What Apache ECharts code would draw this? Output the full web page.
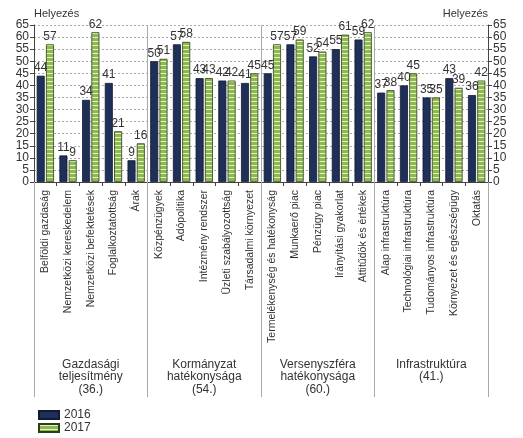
<!DOCTYPE html>
<html><head><meta charset="utf-8">
<script src="https://cdn.jsdelivr.net/npm/echarts@6/dist/echarts.min.js"></script>
<style>html,body{margin:0;padding:0;background:#fff}#c{width:523px;height:438px}</style>
</head><body><div id="c"></div>
<script>
const categories = ["Belföldi gazdaság","Nemzetközi kereskedelem","Nemzetközi befektetések","Foglalkoztatottság","Árak","Közpénzügyek","Adópolitika","Intézmény rendszer","Üzleti szabályozottság","Társadalmi környezet","Termelékenység és hatékonyság","Munkaerő piac","Pénzügy piac","Irányítási gyakorlat","Attitűdök és értékek","Alap infrastruktúra","Technológiai infrastruktúra","Tudományos infrastruktúra","Környezet és egészségügy","Oktatás"];
const groups = ["Gazdasági\nteljesítmény\n(36.)","Kormányzat\nhatékonysága\n(54.)","Versenyszféra\nhatékonysága\n(60.)","Infrastruktúra\n(41.)"];
const values2016 = [44,11,34,41,9,50,57,43,42,41,45,57,52,55,59,37,40,35,43,36];
const values2017 = [57,9,62,21,16,51,58,43,42,45,57,59,54,61,62,38,45,35,39,42];
const seriesNames = ["2016","2017"];
const yTitle = "Helyezés";

const cv = document.createElement('canvas');
cv.width = 4; cv.height = 4;
const cx = cv.getContext('2d');
cx.fillStyle = '#8dba4c'; cx.fillRect(0,0,4,4);
cx.fillStyle = '#e4efcf'; cx.fillRect(0,1,4,1);

const font = "'Liberation Sans', Arial, sans-serif";
const chart = echarts.init(document.getElementById('c'));
const yAxisBase = {
  type:'value', min:0, max:65, interval:5, name:yTitle, nameLocation:'end', nameGap:6,
  axisLine:{show:true, lineStyle:{color:'#444'}},
  axisTick:{show:true, length:4, lineStyle:{color:'#444'}},
  axisLabel:{color:'#333', fontSize:12, fontFamily:font, margin:5}
};
const legendBase = {orient:'horizontal', left:33, itemWidth:20, itemHeight:8,
  textStyle:{color:'#333', fontSize:12, fontFamily:font}, icon:'rect'};
chart.setOption({
  animation:false,
  textStyle:{fontFamily:font},
  grid:{left:34, right:35, top:25, bottom:256, containLabel:false},
  legend:[Object.assign({}, legendBase, {top:404, data:[seriesNames[0]]}),
          Object.assign({}, legendBase, {top:417, data:[seriesNames[1]]})],
  xAxis:[{
    type:'category', data:categories, boundaryGap:true,
    axisLine:{lineStyle:{color:'#444'}},
    axisTick:{show:true, length:4, lineStyle:{color:'#444'}},
    axisLabel:{rotate:90, interval:0, fontSize:10.5, color:'#333', fontFamily:font, margin:8}
  },{
    type:'category', data:groups, position:'bottom', boundaryGap:true,
    axisLine:{show:false},
    axisTick:{show:true, inside:false, length:215, lineStyle:{color:'#aaa'}},
    splitLine:{show:true, lineStyle:{color:'#aaa', width:1}},
    axisLabel:{interval:0, fontSize:12, color:'#333', fontFamily:font, margin:176, lineHeight:12.5}
  }],
  yAxis:[Object.assign({}, yAxisBase, {
    position:'left',
    nameTextStyle:{color:'#333', fontSize:11, fontFamily:font, align:'left', padding:[0,0,0,0]},
    splitLine:{show:true, lineStyle:{color:'#aaa', type:[2,2]}}
  }), Object.assign({}, yAxisBase, {
    position:'right',
    nameTextStyle:{color:'#333', fontSize:11, fontFamily:font, align:'right', padding:[0,0,0,0]},
    splitLine:{show:false}
  })],
  series:[{
    name:seriesNames[0], type:'bar', data:values2016, barWidth:8, barGap:'16%',
    itemStyle:{color:'#1f2f57', borderColor:'#111a33', borderWidth:0.8},
    label:{show:true, position:'top', distance:2, color:'#333', fontSize:12, fontFamily:font}
  },{
    name:seriesNames[1], type:'bar', data:values2017, barWidth:8,
    itemStyle:{color:{image:cv, repeat:'repeat'}, borderColor:'#2f3d18', borderWidth:0.8},
    label:{show:true, position:'top', distance:2, color:'#333', fontSize:12, fontFamily:font}
  }]
});
</script></body></html>
